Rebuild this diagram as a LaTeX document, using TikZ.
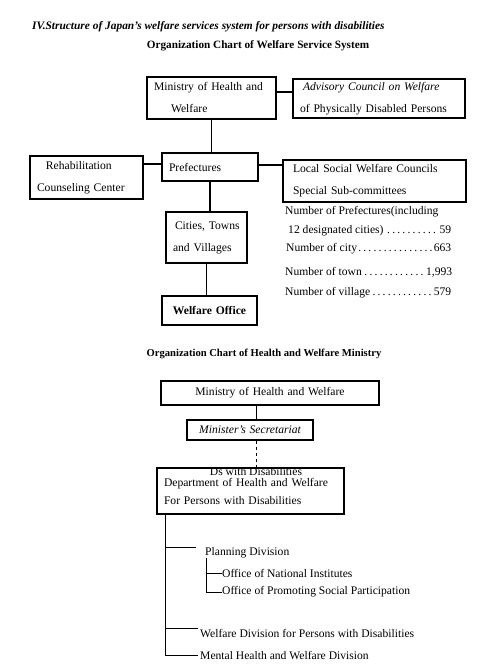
\documentclass[tikz,border=0pt]{standalone}
\usepackage{fontspec}
\setmainfont{Liberation Serif}
\begin{document}
\begin{tikzpicture}
  [x=1pt,y=-1pt,
   every node/.style={inner sep=0pt,font=\fontsize{11.6}{22}\selectfont},
   box/.style={draw,line width=1.2pt,rectangle,align=left,inner xsep=7pt},
   txt/.style={anchor=west}]
  \useasboundingbox (0,0) rectangle (493,672);
  % headings
  \node[txt,font=\fontsize{11.4}{12}\selectfont\bfseries\itshape] (title) at (32,27)
    {IV.Structure of Japan's welfare services system for persons with disabilities};
  \node[font=\fontsize{11.2}{12}\selectfont\bfseries] (head1) at (258,46)
    {Organization Chart of Welfare Service System};
  \node[font=\fontsize{10.6}{12}\selectfont\bfseries] (head2) at (264,354)
    {Organization Chart of Health and Welfare Ministry};

  % welfare service system
  \node[box,text width=115pt,minimum height=42pt] (mhw) at (211.5,98)
    {Ministry of Health and\\\hspace*{17pt}Welfare};
  \node[box,text width=158pt,minimum height=39pt] (adv) at (379,98.5)
    {\hspace*{3pt}\textit{Advisory Council on Welfare}\\of Physically Disabled Persons};
  \node[box,text width=82pt,minimum height=28pt] (pref) at (210,167) {Prefectures};
  \node[box,text width=99pt,minimum height=43pt] (rehab) at (86.5,177.5)
    {\hspace*{9pt}Rehabilitation\\Counseling Center};
  \node[box,text width=169pt,minimum height=42pt] (local) at (374.5,181)
    {\hspace*{3pt}Local Social Welfare Councils\\\hspace*{3pt}Special Sub-committees};
  \node[box,text width=67pt,minimum height=51pt] (cities) at (206.5,237.5)
    {\hspace*{2pt}Cities, Towns\\and Villages};
  \node[box,text width=81pt,minimum height=29pt,align=center,font=\fontsize{11.6}{22}\selectfont\bfseries]
    (office) at (209.5,310.5) {Welfare Office};

  % numbers
  \node[txt] (npref) at (285,212) {Number of Prefectures(including};
  \node[txt] (ndes) at (288,231) {\makebox[163pt][l]{12 designated cities)\dotfill 59}};
  \node[txt] (ncity) at (286,249) {\makebox[165pt][l]{Number of city\dotfill 663}};
  \node[txt] (ntown) at (285,272) {\makebox[167pt][l]{Number of town\dotfill 1,993}};
  \node[txt] (nvill) at (285,293) {\makebox[166pt][l]{Number of village\dotfill 579}};

  \draw[line width=1.2pt] ([yshift=6pt]mhw.east) -- ([yshift=6pt]mhw.east -| adv.west);
  \draw[line width=1.8pt] (mhw.south) -- (mhw.south |- pref.north);
  \draw[line width=1.2pt] ([yshift=3pt]pref.west) -- ([yshift=3pt]pref.west -| rehab.east);
  \draw[line width=1.2pt] ([yshift=2pt]pref.east) -- ([yshift=2pt]pref.east -| local.west);
  \foreach \from/\to in {pref/cities,cities/office}
    \draw[line width=1.2pt] (\from.south) -- (\from.south |- \to.north);

  % health and welfare ministry
  \node[box,text width=204pt,minimum height=24pt,align=center] (mhw2) at (270,393)
    {Ministry of Health and Welfare};
  \node[box,text width=112pt,minimum height=20pt,align=center,font=\fontsize{11.6}{22}\selectfont\itshape]
    (sec) at (250,430) {Minister's Secretariat};
  \node[box,text width=173pt,minimum height=46pt,font=\fontsize{11.6}{18}\selectfont] (dept) at (250.5,491)
    {Department of Health and Welfare\\For Persons with Disabilities};
  \node (ovl) at (256,472) {Ds with Disabilities};

  \draw[line width=1.8pt] ([xshift=6.5pt]sec.north) -- ([xshift=6.5pt]sec.north |- mhw2.south);
  \draw[line width=1.2pt,dashed] ([xshift=6.5pt]sec.south) -- ([xshift=6.5pt]sec.south |- dept.north);

  \node[txt] (plan) at (205,553) {Planning Division};
  \node[txt] (nat) at (222,573) {Office of National Institutes};
  \node[txt] (prom) at (222,592) {Office of Promoting Social Participation};
  \node[txt] (wel) at (200,633) {Welfare Division for Persons with Disabilities};
  \node[txt] (ment) at (200,655) {Mental Health and Welfare Division};

  \coordinate (trunk) at ([xshift=9pt]dept.south west);
  \draw[line width=1.8pt] (trunk) |- ([xshift=-9pt]plan.north west);
  \draw[line width=1pt] (trunk) |- ([xshift=-2pt]wel.north west);
  \draw[line width=1pt] (trunk) |- ([xshift=-2pt]ment.west);
  \foreach \to in {nat,prom}
    \draw[line width=1pt] ([xshift=1pt]plan.south west) |- (\to.west);
\end{tikzpicture}
\end{document}
